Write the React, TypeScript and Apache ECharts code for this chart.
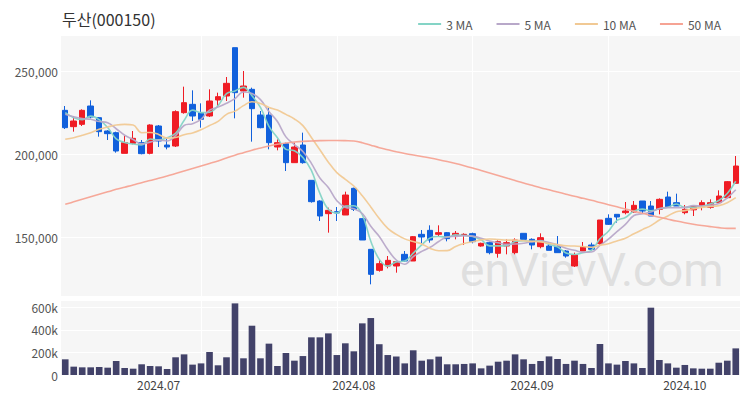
import React, { useEffect, useRef } from 'react';
import * as echarts from 'echarts';

const TITLE = '두산(000150)';
const FONT = '"Noto Sans CJK KR", "Noto Sans", sans-serif';

// Trading days per month (2024)
const juneDays = [14, 17, 18, 19, 20, 21, 24, 25, 26, 27, 28];
const julyDays = [1, 2, 3, 4, 5, 8, 9, 10, 11, 12, 15, 16, 17, 18, 19, 22, 23, 24, 25, 26, 29, 30, 31];
const augDays = [1, 2, 5, 6, 7, 8, 9, 12, 13, 14, 16, 19, 20, 21, 22, 23, 26, 27, 28, 29, 30];
const sepDays = [2, 3, 4, 5, 6, 9, 10, 11, 12, 13, 19, 20, 23, 24, 25, 26, 27, 30];
const octDays = [2, 4, 7, 8, 10, 11, 14];

const opens = [
  226400, 216600, 218000, 229000, 222000, 214000, 213000, 200600, 206600, 207000,
  200600, 217000, 205600, 205000, 225000, 230000, 225000, 223000, 232600, 235000,
  264000, 238000, 239000, 223600, 223600, 204400, 206400, 195000, 205600, 184400,
  172000, 164400, 165600, 163600, 179600, 161400, 143000, 130400, 133000, 133000,
  140000, 136000, 152000, 154400, 152000, 153000, 151400, 151400, 152400, 145000,
  147000, 140600, 145000, 141000, 152600, 149000, 144600, 145000, 144600, 142000,
  133000, 142000, 145600, 146400, 161600, 164000, 165000, 165400, 172000, 169000,
  167000, 174400, 171000, 165000, 166700, 168600, 168200, 171000, 174000, 182600,
];
const closes = [
  216000, 220000, 226400, 222400, 213600, 212400, 202000, 207000, 209600, 200400,
  217600, 208000, 204400, 225600, 231000, 223000, 221000, 232000, 234600, 242600,
  237000, 241000, 227400, 216000, 207000, 207000, 195000, 204400, 195000, 171600,
  163000, 166400, 164800, 175600, 167000, 148600, 128000, 134400, 136400, 135600,
  136000, 150600, 150400, 148600, 153000, 149400, 152600, 152000, 147600, 146600,
  141000, 147600, 147000, 148600, 149000, 145600, 150000, 142400, 141000, 139000,
  139600, 144400, 143000, 160600, 158000, 162400, 166000, 169400, 166000, 163000,
  173000, 168600, 169000, 167000, 168700, 171000, 171000, 175000, 183600, 193000,
];
const lows = [
  215200, 213600, 217000, 221600, 210600, 208600, 201000, 200600, 206000, 200000,
  200000, 204400, 203000, 204400, 224400, 220000, 216000, 222400, 228400, 232000,
  221600, 234000, 207600, 215600, 203000, 202400, 190000, 195000, 194400, 171000,
  160000, 153000, 160000, 163600, 166000, 148600, 122000, 129600, 131600, 129000,
  135600, 136000, 146600, 147000, 151000, 147800, 149000, 145600, 146600, 144600,
  140000, 138000, 140000, 140000, 149000, 143000, 143600, 142400, 141000, 138000,
  132400, 142000, 142000, 145800, 157600, 159000, 164000, 165000, 164400, 163000,
  164000, 168000, 169000, 164000, 163000, 166400, 167400, 170600, 173600, 182600,
];
const highs = [
  229000, 223000, 227000, 232400, 222400, 214500, 213600, 211000, 214000, 208600,
  218000, 217600, 209600, 226400, 240600, 238400, 230600, 239000, 237000, 246400,
  264000, 250000, 240000, 226000, 228000, 209000, 207000, 207000, 213000, 184400,
  172400, 168000, 168400, 177600, 180000, 161400, 143000, 137000, 139000, 136000,
  142000, 151000, 154600, 157400, 157400, 153400, 154000, 152600, 153000, 147000,
  147600, 148400, 149000, 149600, 152600, 149600, 152600, 147000, 151000, 142600,
  141000, 147400, 147000, 160600, 164000, 164000, 171400, 172000, 172000, 172000,
  173600, 177600, 176400, 169600, 168700, 172400, 173000, 178400, 184000, 199000,
];
const volumes = [
  139000, 74000, 68000, 68000, 71000, 65000, 124000, 62000, 56000, 95000,
  80000, 77000, 53000, 157000, 183000, 92000, 103000, 204000, 86000, 157000,
  635000, 148000, 437000, 148000, 278000, 80000, 195000, 127000, 168000, 334000,
  334000, 369000, 177000, 281000, 210000, 458000, 505000, 273000, 177000, 164000,
  103000, 219000, 127000, 139000, 163000, 95000, 95000, 98000, 103000, 59000,
  83000, 118000, 127000, 183000, 139000, 98000, 124000, 165000, 142000, 98000,
  127000, 98000, 62000, 275000, 103000, 92000, 124000, 103000, 62000, 597000,
  133000, 103000, 65000, 89000, 59000, 56000, 56000, 109000, 127000, 236000,
];
// Moving-average values before enough closes exist in the window
const ma3Head = [225000, 222000];
const ma5Head = [224000, 222500, 221500, 221000];
const ma10Head = [209000, 210000, 211400, 213000, 215000, 216400, 217600, 218000, 217600];
// 50-day moving average
const ma50 = [
  170000, 171500, 173000, 174500, 176000, 177500, 179000, 180300, 181600, 183000,
  184300, 185600, 187000, 188500, 190000, 191500, 193000, 194500, 196000, 197800,
  199500, 201000, 202500, 203800, 205000, 206000, 206800, 207400, 207800, 208000,
  208200, 208300, 208300, 208200, 208000, 207000, 205500, 204000, 202800, 201600,
  200500, 199600, 198700, 197800, 196800, 195700, 194500, 193200, 191800, 190300,
  188800, 187300, 185800, 184300, 182800, 181400, 180000, 178700, 177400, 176100,
  174800, 173600, 172400, 171100, 169800, 168500, 167200, 165900, 164600, 163400,
  162200, 161100, 160000, 159000, 158100, 157300, 156600, 156000, 155600, 155600,
];
const maNames = ['3 MA', '5 MA', '10 MA', '50 MA'];
const maColors = ['#84d4c6', '#b8a8c9', '#f1c994', '#f6a394'];
const priceTicks = [150000, 200000, 250000];

const pad = (d: number) => (d < 10 ? '0' + d : '' + d);
const dates = [
  ...juneDays.map((d) => `2024-06-${pad(d)}`),
  ...julyDays.map((d) => `2024-07-${pad(d)}`),
  ...augDays.map((d) => `2024-08-${pad(d)}`),
  ...sepDays.map((d) => `2024-09-${pad(d)}`),
  ...octDays.map((d) => `2024-10-${pad(d)}`),
];

function movingAvg(n: number, head: number[]) {
  return closes.map((_, i) => {
    if (i < n - 1) return head[i];
    let s = 0;
    for (let k = i - n + 1; k <= i; k++) s += closes[k];
    return Math.round(s / n);
  });
}

export default function App() {
  const ref = useRef<HTMLDivElement>(null);
  useEffect(() => {
    if (!ref.current) return;
    const chart = echarts.init(ref.current, null, { renderer: 'svg' });
    const candle = dates.map((_, i) => [opens[i], closes[i], lows[i], highs[i]]);
    const maData = [movingAvg(3, ma3Head), movingAvg(5, ma5Head), movingAvg(10, ma10Head), ma50];
    const splitIdx = (index: number) => index > 0 && index % 16 === 0;
    const monthStart = (index: number) =>
      index > 0 && dates[index].slice(0, 7) !== dates[index - 1].slice(0, 7);
    const whiteSplit = { show: true, lineStyle: { color: '#ffffff', width: 1 } };
    const xBase = {
      type: 'category',
      data: dates,
      boundaryGap: true,
      axisLine: { show: false },
      axisTick: { show: false },
      splitLine: { show: true, interval: splitIdx, alignWithLabel: true, lineStyle: { color: '#ffffff', width: 1 } },
    };
    const option: any = {
      animation: false,
      backgroundColor: '#ffffff',
      textStyle: { fontFamily: FONT },
      title: {
        text: TITLE,
        left: 57,
        top: 6,
        textStyle: { fontSize: 16, fontWeight: 'normal', color: '#333', fontFamily: FONT },
      },
      legend: {
        data: maNames,
        right: 24,
        top: 13,
        icon: 'rect',
        itemWidth: 23,
        itemHeight: 2,
        itemGap: 24,
        textStyle: { fontSize: 12, color: '#555', fontFamily: FONT },
      },
      grid: [
        { left: 61, right: 10, top: 35, height: 261, show: true, backgroundColor: '#f6f6f6', borderWidth: 0 },
        { left: 61, right: 10, top: 300, height: 75, show: true, backgroundColor: '#f6f6f6', borderWidth: 0 },
      ],
      xAxis: [
        { ...xBase, gridIndex: 0, axisLabel: { show: false } },
        {
          ...xBase,
          gridIndex: 1,
          axisLabel: {
            show: true,
            interval: monthStart,
            formatter: (v: string) => v.slice(0, 4) + '.' + v.slice(5, 7),
            fontSize: 12,
            color: '#444',
            margin: 3,
            fontFamily: FONT,
          },
        },
      ],
      yAxis: [
        {
          type: 'value',
          gridIndex: 0,
          min: 115000,
          max: 271600,
          splitNumber: 3,
          axisLine: { show: false },
          axisTick: { show: false },
          splitLine: whiteSplit,
          axisLabel: {
            showMinLabel: false,
            showMaxLabel: false,
            fontSize: 12,
            color: '#555',
            margin: 3,
            fontFamily: FONT,
            formatter: (v: number) => (priceTicks.indexOf(v) >= 0 ? v.toLocaleString('en-US') : ''),
          },
        },
        {
          type: 'value',
          gridIndex: 1,
          min: 0,
          max: 665000,
          interval: 200000,
          axisLine: { show: false },
          axisTick: { show: false },
          splitLine: whiteSplit,
          axisLabel: {
            showMaxLabel: false,
            fontSize: 12,
            color: '#555',
            margin: 3,
            fontFamily: FONT,
            formatter: (v: number) => (v === 0 ? '0' : v % 200000 === 0 ? v / 1000 + 'k' : ''),
          },
        },
      ],
      graphic: [
        {
          type: 'text',
          left: 460,
          top: 247,
          z: 1,
          silent: true,
          style: {
            text: 'enVievV.com',
            fontSize: 46,
            fontFamily: 'Roboto',
            fontWeight: 'normal',
            fill: 'rgba(200,200,200,0.5)',
          },
        },
      ],
      series: [
        {
          type: 'candlestick',
          name: 'price',
          xAxisIndex: 0,
          yAxisIndex: 0,
          data: candle,
          barWidth: 6,
          z: 3,
          itemStyle: {
            color: '#ef1c24',
            color0: '#1160dc',
            borderColor: '#ef1c24',
            borderColor0: '#1160dc',
            borderWidth: 1,
          },
        },
        ...maNames.map((name, k) => ({
          type: 'line',
          name,
          xAxisIndex: 0,
          yAxisIndex: 0,
          data: maData[k],
          showSymbol: false,
          symbol: 'none',
          smooth: 0.4,
          z: 4,
          color: maColors[k],
          itemStyle: { color: maColors[k] },
          lineStyle: { color: maColors[k], width: 1.6, opacity: 0.95 },
        })),
        {
          type: 'bar',
          name: 'volume',
          xAxisIndex: 1,
          yAxisIndex: 1,
          data: volumes,
          barWidth: '78%',
          itemStyle: { color: '#424269' },
        },
      ],
    };
    chart.setOption(option);
    return () => chart.dispose();
  }, []);
  return (
    <div
      ref={ref}
      style={{ position: 'fixed', left: 0, top: 0, width: 750, height: 400, background: '#fff' }}
    />
  );
}
